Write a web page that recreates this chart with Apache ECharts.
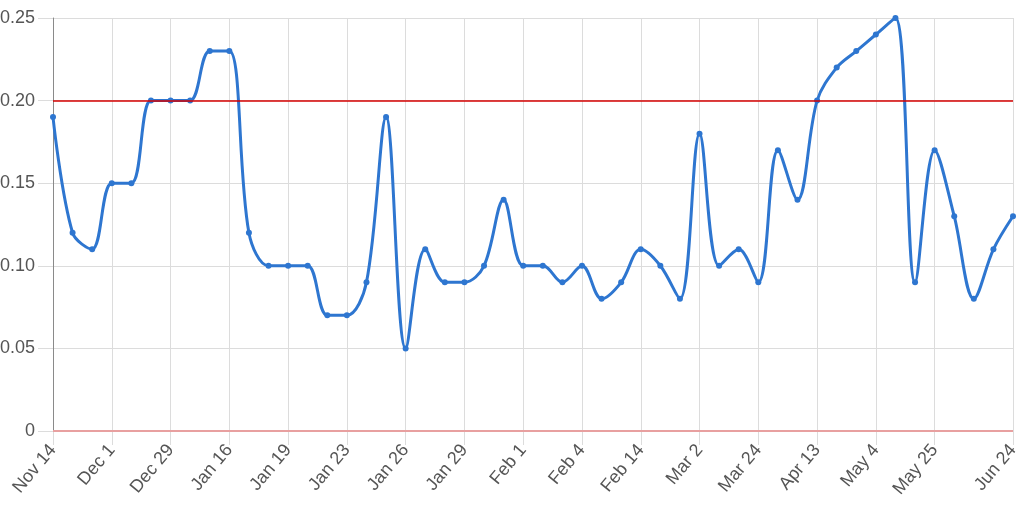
<!DOCTYPE html>
<html lang="en">
  <head>
    <meta charset="UTF-8" />
    <title>index.html</title>
    <style>
      html,
      body {
        margin: 0;
        padding: 0;
        background: #fff;
      }
      #chart {
        width: 1023px;
        height: 506px;
      }
    </style>
  </head>
  <body>
    <div id="chart"></div>
    <script src="https://cdn.jsdelivr.net/npm/echarts@6/dist/echarts.min.js"></script>
    <script>
      // category labels: only every 3rd date is printed on the axis, the rest are blank
      const dates = [
        "Nov 14", "", "", "Dec 1", "", "", "Dec 29", "", "", "Jan 16",
        "", "", "Jan 19", "", "", "Jan 23", "", "", "Jan 26", "",
        "", "Jan 29", "", "", "Feb 1", "", "", "Feb 4", "", "",
        "Feb 14", "", "", "Mar 2", "", "", "Mar 24", "", "", "Apr 13",
        "", "", "May 4", "", "", "May 25", "", "", "", "Jun 24",
      ];
      const values = [
        0.19, 0.12, 0.11, 0.15, 0.15, 0.2, 0.2, 0.2, 0.23, 0.23,
        0.12, 0.1, 0.1, 0.1, 0.07, 0.07, 0.09, 0.19, 0.05, 0.11,
        0.09, 0.09, 0.1, 0.14, 0.1, 0.1, 0.09, 0.1, 0.08, 0.09,
        0.11, 0.1, 0.08, 0.18, 0.1, 0.11, 0.09, 0.17, 0.14, 0.2,
        0.22, 0.23, 0.24, 0.25, 0.09, 0.17, 0.13, 0.08, 0.11, 0.13,
      ];
      const upperLimit = 0.2;
      const lowerLimit = 0;
      const yTicks = [0, 0.05, 0.1, 0.15, 0.2, 0.25];

      // show label / gridline only where a date name exists
      const showTick = (i) => dates[i] !== "";

      let mchart = echarts.init(document.getElementById("chart"));
      let option = {
        animation: false,
        grid: {
          left: 53,
          right: 10,
          top: 18,
          bottom: 75,
          containLabel: false,
          outerBoundsMode: "none",
        },
        xAxis: {
          type: "category",
          boundaryGap: false,
          data: dates,
          axisLine: { show: false },
          axisTick: {
            show: true,
            length: 14,
            interval: showTick,
            lineStyle: { color: "#dcdcdc" },
          },
          axisLabel: {
            interval: showTick,
            rotate: 50,
            margin: 16,
            fontSize: 18,
            color: "#555",
            fontFamily: "Liberation Sans, Arial, sans-serif",
          },
          splitLine: {
            show: true,
            interval: showTick,
            lineStyle: { color: "#dcdcdc" },
          },
        },
        yAxis: {
          type: "value",
          min: yTicks[0],
          max: yTicks[yTicks.length - 1],
          interval: 0.05,
          axisLine: {
            show: true,
            lineStyle: { color: "#8a8a8a" },
          },
          axisTick: {
            show: true,
            length: 15,
            lineStyle: { color: "#dcdcdc" },
          },
          axisLabel: {
            margin: 18,
            fontSize: 18,
            color: "#555",
            fontFamily: "Liberation Sans, Arial, sans-serif",
            formatter: (v) => (v === 0 ? "0" : v.toFixed(2)),
          },
          splitLine: {
            lineStyle: { color: "#dcdcdc" },
          },
        },
        series: [
          {
            type: "line",
            data: values,
            smooth: 0.35,
            symbol: "circle",
            symbolSize: 6,
            itemStyle: { color: "#2e76d0" },
            lineStyle: { color: "#2e76d0", width: 3 },
            z: 3,
            markLine: {
              silent: true,
              symbol: "none",
              label: { show: false },
              data: [
                {
                  yAxis: upperLimit,
                  lineStyle: { color: "#d40000", width: 1.5, type: "solid" },
                },
                {
                  yAxis: lowerLimit,
                  lineStyle: { color: "#e8a0a0", width: 2, type: "solid" },
                },
              ],
            },
          },
        ],
      };
      mchart.setOption(option);
    </script>
  </body>
</html>
